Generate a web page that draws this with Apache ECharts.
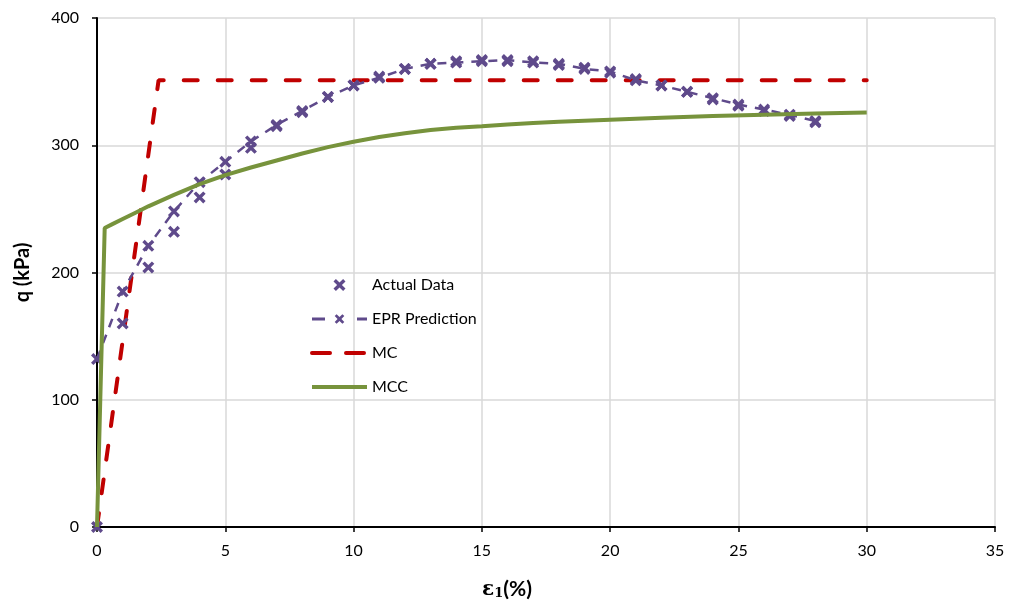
<!DOCTYPE html>
<html>
<head>
<meta charset="utf-8">
<title>q vs axial strain</title>
<script src="https://cdn.jsdelivr.net/npm/echarts@6/dist/echarts.min.js"></script>
<style>
  html, body { margin: 0; padding: 0; background: #ffffff; }
  #chart { width: 1014px; height: 609px; }
</style>
</head>
<body>
<div id="chart"></div>
<script>
// Axial strain (%) at which the test / EPR values are reported
const strainPts = [0, 1, 2, 3, 4, 5, 6, 7, 8, 9, 10, 11, 12, 13, 14, 15, 16, 17, 18, 19, 20, 21, 22, 23, 24, 25, 26, 27, 28];
// Deviator stress q (kPa)
const actualQ = [0, 160, 204, 232, 259, 277, 298, 315, 326, 338, 347, 354, 360, 364, 366, 367, 366, 366, 363, 361, 357, 352, 347, 342, 336, 331, 327, 323, 318];
const eprQ = [132, 185, 221, 248, 271, 287, 303, 316, 327, 338, 347, 353, 360, 364, 365, 366, 367, 365, 364, 360, 358, 351, 347, 342, 337, 332, 328, 324, 319];

// Mohr-Coulomb model
const mcStrain = [0, 2.4, 30];
const mcQ = [0, 351, 351];

// Modified Cam-Clay model
const mccStrain = [0, 0.3, 0.6, 1, 1.5, 2, 3, 4, 5, 6, 7, 8, 9, 10, 11, 12, 13, 14, 15, 16, 17, 18, 19, 20, 22, 24, 26, 28, 30];
const mccQ = [0, 235, 238, 242, 247, 252, 261, 269.5, 276.5, 282.5, 288, 293.5, 298.5, 302.8, 306.5, 309.5, 312, 313.8, 315, 316.3, 317.4, 318.4, 319.3, 320.1, 321.6, 322.9, 324, 325, 325.7];

const seriesNames = ['Actual Data', 'EPR Prediction', 'MC', 'MCC'];

const pair = (xs, ys) => xs.map((x, i) => [x, ys[i]]);

const PURPLE = '#5f4a8b';
const RED = '#c00000';
const GREEN = '#77933c';
const FONT = 'Lato, "Open Sans", sans-serif';
const CROSS = 'path://M2,0 L5,3 L8,0 L10,2 L7,5 L10,8 L8,10 L5,7 L2,10 L0,8 L3,5 L0,2 Z';

const chart = echarts.init(document.getElementById('chart'), null, { renderer: 'canvas' });

chart.setOption({
  animation: false,
  backgroundColor: '#ffffff',
  grid: { left: 97, right: 19, top: 18, bottom: 82, containLabel: false },
  legend: {
    data: [
      { name: seriesNames[0], itemStyle: { opacity: 1 } },
      { name: seriesNames[1], lineStyle: { width: 3, type: [13, 32], cap: 'butt' } },
      { name: seriesNames[2], itemStyle: { opacity: 0 }, lineStyle: { width: 4, type: [18, 16], cap: 'round' } },
      { name: seriesNames[3], itemStyle: { opacity: 0 }, lineStyle: { width: 4 } }
    ],
    orient: 'vertical',
    left: 305,
    top: 272,
    itemWidth: 55,
    itemHeight: 12,
    itemGap: 18,
    textStyle: { fontFamily: FONT, fontSize: 16, color: '#000' }
  },
  xAxis: {
    type: 'value',
    min: 0, max: 35, interval: 5,
    name: '{e|ε}{s|1}{p|(%)}',
    nameLocation: 'middle',
    nameGap: 52,
    nameTextStyle: {
      padding: [0, 78, 0, 0],
      rich: {
        e: { fontFamily: '"DejaVu Serif", serif', fontWeight: 'bold', fontSize: 20, color: '#000' },
        s: { fontFamily: '"DejaVu Serif", serif', fontWeight: 'bold', fontSize: 13, color: '#000', verticalAlign: 'bottom', padding: [8, 0, 0, 0] },
        p: { fontFamily: FONT, fontWeight: 'bold', fontSize: 21, color: '#000' }
      }
    },
    axisLine: { show: true, onZero: false, lineStyle: { color: '#000', width: 2 } },
    axisTick: { show: true, inside: false, length: 5, lineStyle: { color: '#000', width: 1.5 } },
    axisLabel: { fontFamily: FONT, fontSize: 16, color: '#000', margin: 16 },
    splitLine: { show: true, lineStyle: { color: '#d9d9d9', width: 1.5 } }
  },
  yAxis: {
    type: 'value',
    min: 0, max: 400, interval: 100,
    name: 'q (kPa)',
    nameLocation: 'middle',
    nameGap: 64,
    nameTextStyle: { fontFamily: FONT, fontWeight: 'bold', fontSize: 20, color: '#000' },
    axisLine: { show: true, onZero: false, lineStyle: { color: '#000', width: 2 } },
    axisTick: { show: true, inside: false, length: 5, lineStyle: { color: '#000', width: 1.5 } },
    axisLabel: { fontFamily: FONT, fontSize: 16, color: '#000', margin: 18 },
    splitLine: { show: true, lineStyle: { color: '#d9d9d9', width: 1.5 } }
  },
  series: [
    {
      name: seriesNames[0],
      type: 'scatter',
      data: pair(strainPts, actualQ),
      symbol: CROSS,
      symbolSize: 12,
      itemStyle: { color: PURPLE, opacity: 1 },
      z: 3
    },
    {
      name: seriesNames[1],
      type: 'line',
      data: pair(strainPts, eprQ),
      symbol: CROSS,
      symbolSize: 12,
      showSymbol: true,
      itemStyle: { color: PURPLE },
      lineStyle: { color: PURPLE, width: 2.5, type: [9, 8] },
      z: 3
    },
    {
      name: seriesNames[2],
      type: 'line',
      data: pair(mcStrain, mcQ),
      showSymbol: false,
      itemStyle: { color: RED },
      lineStyle: { color: RED, width: 4, type: [14, 20], cap: 'round' },
      z: 2
    },
    {
      name: seriesNames[3],
      type: 'line',
      data: pair(mccStrain, mccQ),
      showSymbol: false,
      itemStyle: { color: GREEN },
      lineStyle: { color: GREEN, width: 4 },
      z: 4
    }
  ]
});
</script>
</body>
</html>
